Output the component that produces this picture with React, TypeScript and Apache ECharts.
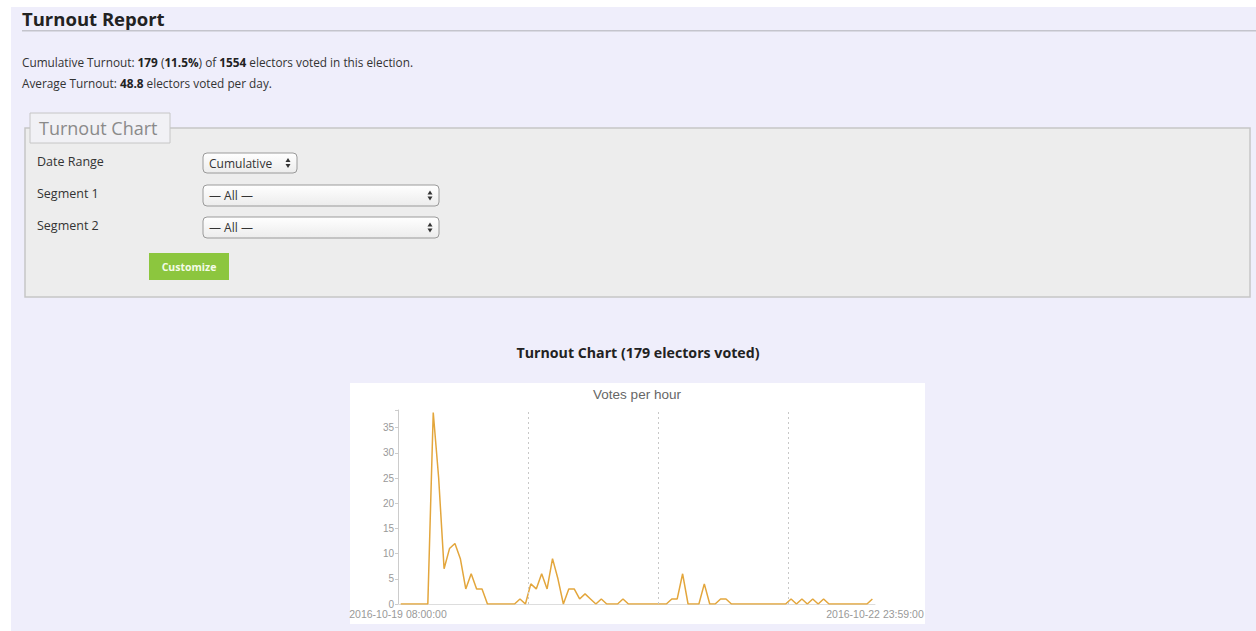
import React, { useEffect, useRef } from "react";
import * as echarts from "echarts";

// Votes per hour, one value per hour starting 2016-10-19 08:00
const votesPerHour = [
  0, 0, 0, 0, 0, 0, 38, 25, 7, 11, 12, 9, 3, 6, 3, 3, 0, 0, 0, 0, 0, 0, 1, 0,
  4, 3, 6, 3, 9, 5, 0, 3, 3, 1, 2, 1, 0, 1, 0, 0, 0, 1, 0, 0, 0, 0, 0, 0, 0, 0,
  1, 1, 6, 0, 0, 0, 4, 0, 0, 1, 1, 0, 0, 0, 0, 0, 0, 0, 0, 0, 0, 0,
  1, 0, 1, 0, 1, 0, 1, 0, 0, 0, 0, 0, 0, 0, 0, 1,
];
const dayMarks = [24, 48, 72];
const xStartLabel = "2016-10-19 08:00:00";
const xEndLabel = "2016-10-22 23:59:00";
const xMaxHours = 87 + 59 / 60;
const yMax = 38.5;
const yStep = 5;

const chartTitle = "Votes per hour";
const pageTitle = "Turnout Report";
const chartHeading = "Turnout Chart (179 electors voted)";
const legendText = "Turnout Chart";
const formLabels = ["Date Range", "Segment 1", "Segment 2"];
const selectTexts = ["Cumulative", "— All —", "— All —"];

const PAGE_FONT = '"Open Sans", "DejaVu Sans", sans-serif';
const CHART_FONT = '"Liberation Sans", Arial, sans-serif';
const BG = "#efeefb";

function selectBox(x: number, y: number, w: number, h: number, label: string) {
  const cy = y + h / 2;
  const ax = x + w - 9;
  return [
    {
      type: "rect",
      z: -5,
      shape: { x, y, width: w, height: h, r: 4 },
      style: {
        fill: new echarts.graphic.LinearGradient(0, 0, 0, 1, [
          { offset: 0, color: "#ffffff" },
          { offset: 1, color: "#ececec" },
        ]),
        stroke: "#9a9a9a",
        lineWidth: 1,
      },
    },
    {
      type: "text",
      z: 5,
      style: {
        text: label,
        x: x + 6,
        y: cy,
        fontFamily: PAGE_FONT,
        fontSize: 12,
        fill: "#333",
        textVerticalAlign: "middle",
      },
    },
    {
      type: "polygon",
      z: 5,
      shape: { points: [[ax - 2.5, cy - 1], [ax + 2.5, cy - 1], [ax, cy - 5]] },
      style: { fill: "#333" },
    },
    {
      type: "polygon",
      z: 5,
      shape: { points: [[ax - 2.5, cy + 1], [ax + 2.5, cy + 1], [ax, cy + 5]] },
      style: { fill: "#333" },
    },
  ];
}

export default function App() {
  const ref = useRef<HTMLDivElement>(null);

  useEffect(() => {
    if (!ref.current) return;
    const chart = echarts.init(ref.current, null, { renderer: "svg" });

    const graphic: any[] = [
      // page background
      { type: "rect", z: -20, shape: { x: 11, y: 7, width: 1245, height: 624 }, style: { fill: BG } },
      // page title
      {
        type: "text",
        z: 5,
        style: {
          text: pageTitle,
          x: 22,
          y: 18,
          fontFamily: PAGE_FONT,
          fontSize: 18.5,
          fontWeight: "bold",
          fill: "#222",
          textVerticalAlign: "middle",
        },
      },
      { type: "rect", z: -10, shape: { x: 22, y: 30, width: 1234, height: 1.5 }, style: { fill: "#c4c4cc" } },
      {
        type: "text",
        z: 5,
        style: {
          text:
            "{n|Cumulative Turnout: }{b|179}{n| (}{b|11.5%}{n|) of }{b|1554}{n| electors voted in this election.}",
          x: 22,
          y: 62,
          textVerticalAlign: "middle",
          rich: {
            n: { fontFamily: PAGE_FONT, fontSize: 11.8, fill: "#333" },
            b: { fontFamily: PAGE_FONT, fontSize: 11.8, fontWeight: "bold", fill: "#222" },
          },
        },
      },
      {
        type: "text",
        z: 5,
        style: {
          text: "{n|Average Turnout: }{b|48.8}{n| electors voted per day.}",
          x: 22,
          y: 83,
          textVerticalAlign: "middle",
          rich: {
            n: { fontFamily: PAGE_FONT, fontSize: 11.8, fill: "#333" },
            b: { fontFamily: PAGE_FONT, fontSize: 11.8, fontWeight: "bold", fill: "#222" },
          },
        },
      },
      // fieldset
      {
        type: "rect",
        z: -10,
        shape: { x: 25, y: 128, width: 1225, height: 169 },
        style: { fill: "#ededed", stroke: "#c6c6c6", lineWidth: 1.5 },
      },
      {
        type: "rect",
        z: -8,
        shape: { x: 30, y: 113, width: 140, height: 30 },
        style: { fill: "#f1f1f5", stroke: "#c6c6c6", lineWidth: 1 },
      },
      {
        type: "text",
        z: 5,
        style: {
          text: legendText,
          x: 39,
          y: 128,
          fontFamily: PAGE_FONT,
          fontSize: 18,
          fill: "#8a8a8a",
          textVerticalAlign: "middle",
        },
      },
      ...formLabels.map((t, i) => ({
        type: "text",
        z: 5,
        style: {
          text: t,
          x: 37,
          y: 161 + i * 32,
          fontFamily: PAGE_FONT,
          fontSize: 12.5,
          fill: "#333",
          textVerticalAlign: "middle",
        },
      })),
      ...selectBox(203, 153, 94, 20, selectTexts[0]),
      ...selectBox(203, 185, 236, 21, selectTexts[1]),
      ...selectBox(203, 217, 236, 21, selectTexts[2]),
      {
        type: "rect",
        z: -5,
        shape: { x: 149, y: 253, width: 80, height: 27 },
        style: { fill: "#8cc63e" },
      },
      {
        type: "text",
        z: 5,
        style: {
          text: "Customize",
          x: 189,
          y: 266.5,
          fontFamily: PAGE_FONT,
          fontSize: 10.5,
          fontWeight: "bold",
          fill: "#f4fbe8",
          textAlign: "center",
          textVerticalAlign: "middle",
        },
      },
      // chart heading
      {
        type: "text",
        z: 5,
        style: {
          text: chartHeading,
          x: 638,
          y: 352,
          fontFamily: PAGE_FONT,
          fontSize: 14.2,
          fontWeight: "bold",
          fill: "#222",
          textAlign: "center",
          textVerticalAlign: "middle",
        },
      },
      // chart white panel
      { type: "rect", z: -9, shape: { x: 350, y: 383, width: 575, height: 241 }, style: { fill: "#ffffff" } },
      {
        type: "text",
        z: 5,
        style: {
          text: chartTitle,
          x: 637,
          y: 394,
          fontFamily: CHART_FONT,
          fontSize: 13.5,
          fill: "#666",
          textAlign: "center",
          textVerticalAlign: "middle",
        },
      },
    ];

    chart.setOption({
      animation: false,
      backgroundColor: "#ffffff",
      grid: { left: 398, right: 1256 - 875, top: 410, bottom: 631 - 604, containLabel: false },
      xAxis: {
        type: "value",
        min: 0,
        max: xMaxHours,
        interval: xMaxHours,
        axisLine: { show: true, lineStyle: { color: "#dddddd" } },
        axisTick: { show: false },
        splitLine: { show: false },
        axisLabel: {
          color: "#999",
          fontFamily: CHART_FONT,
          fontSize: 10.5,
          margin: 4,
          showMinLabel: true,
          showMaxLabel: true,
          formatter: (v: number) => (v < 1 ? xStartLabel : xEndLabel),
        },
      },
      yAxis: {
        type: "value",
        min: 0,
        max: yMax,
        interval: yStep,
        axisLine: { show: true, lineStyle: { color: "#cccccc" } },
        axisTick: { show: true, length: 3, lineStyle: { color: "#cccccc" } },
        splitLine: { show: false },
        axisLabel: {
          color: "#999",
          fontFamily: CHART_FONT,
          fontSize: 10,
          margin: 4,
          formatter: (v: number) => (v % yStep === 0 ? String(v) : ""),
        },
      },
      graphic,
      series: [
        {
          type: "line",
          data: votesPerHour.map((v, i) => [i + 0.5, v]),
          symbol: "none",
          lineStyle: { color: "#e3a63c", width: 1.5 },
          itemStyle: { color: "#e3a63c" },
          z: 3,
          markLine: {
            silent: true,
            symbol: "none",
            label: { show: false },
            lineStyle: { color: "#c8c8c8", type: [2, 3], width: 1 },
            data: dayMarks.map((d) => ({ xAxis: d })),
          },
        },
      ],
    });

    return () => chart.dispose();
  }, []);

  return (
    <div
      ref={ref}
      style={{ position: "fixed", left: 0, top: 0, width: 1256, height: 631 }}
    />
  );
}
